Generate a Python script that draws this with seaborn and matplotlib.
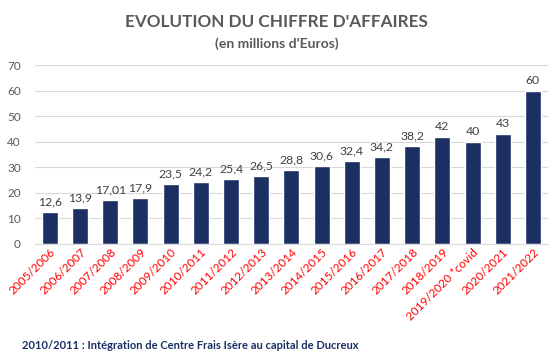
import matplotlib
matplotlib.use("Agg")
import matplotlib.pyplot as plt
import seaborn as sns
import pandas as pd

years = ["2005/2006", "2006/2007", "2007/2008", "2008/2009", "2009/2010", "2010/2011",
         "2011/2012", "2012/2013", "2013/2014", "2014/2015", "2015/2016", "2016/2017",
         "2017/2018", "2018/2019", "2019/2020 *covid", "2020/2021", "2021/2022"]
ca = [12.6, 13.9, 17.01, 17.9, 23.5, 24.2, 25.4, 26.5, 28.8, 30.6, 32.4, 34.2,
      38.2, 42, 40, 43, 60]
labels = ["12,6", "13,9", "17,01", "17,9", "23,5", "24,2", "25,4", "26,5", "28,8",
          "30,6", "32,4", "34,2", "38,2", "42", "40", "43", "60"]

df = pd.DataFrame({"annee": years, "ca": ca})

sns.set_style("white")
plt.rcParams["font.family"] = ["Lato", "DejaVu Sans"]

fig = plt.figure(figsize=(5.53, 3.64), dpi=100)
ax = fig.add_axes([0.063, 0.330, 0.928, 0.491])

sns.barplot(data=df, x="annee", y="ca", color="#1b2f63", saturation=1, width=0.53, ax=ax)

for i, (v, t) in enumerate(zip(ca, labels)):
    ax.text(i, v + 1.8, t, ha="center", va="bottom", fontsize=8.8, color="#404040")

ax.set_ylim(0, 70)
ax.set_xlim(-0.5, len(years) - 0.5)
ax.set_yticks(range(0, 71, 10))
ax.yaxis.grid(True, color="#d9d9d9", linewidth=0.8)
ax.set_axisbelow(True)
for s in ["top", "right", "left"]:
    ax.spines[s].set_visible(False)
ax.spines["bottom"].set_color("#d9d9d9")
ax.set_xlabel("")
ax.set_ylabel("")
ax.tick_params(axis="y", length=0, labelsize=8.5, labelcolor="#595959", pad=10)
ax.tick_params(axis="x", length=0, labelsize=8.5, labelcolor="#ff0000", pad=2)
plt.setp(ax.get_xticklabels(), rotation=45, ha="right", rotation_mode="anchor")

fig.text(0.5, 0.94, "EVOLUTION DU CHIFFRE D'AFFAIRES", ha="center", va="center",
         fontsize=12.3, fontweight="bold", color="#595959")
fig.text(0.5, 0.88, "(en millions d'Euros)", ha="center", va="center",
         fontsize=10, fontweight="bold", color="#595959")
fig.text(0.04, 0.052, "2010/2011 : Intégration de Centre Frais Isère au capital de Ducreux",
         ha="left", va="center", fontsize=8, fontweight="bold", color="#1b2f63")

fig.savefig("out.png", dpi=100)
